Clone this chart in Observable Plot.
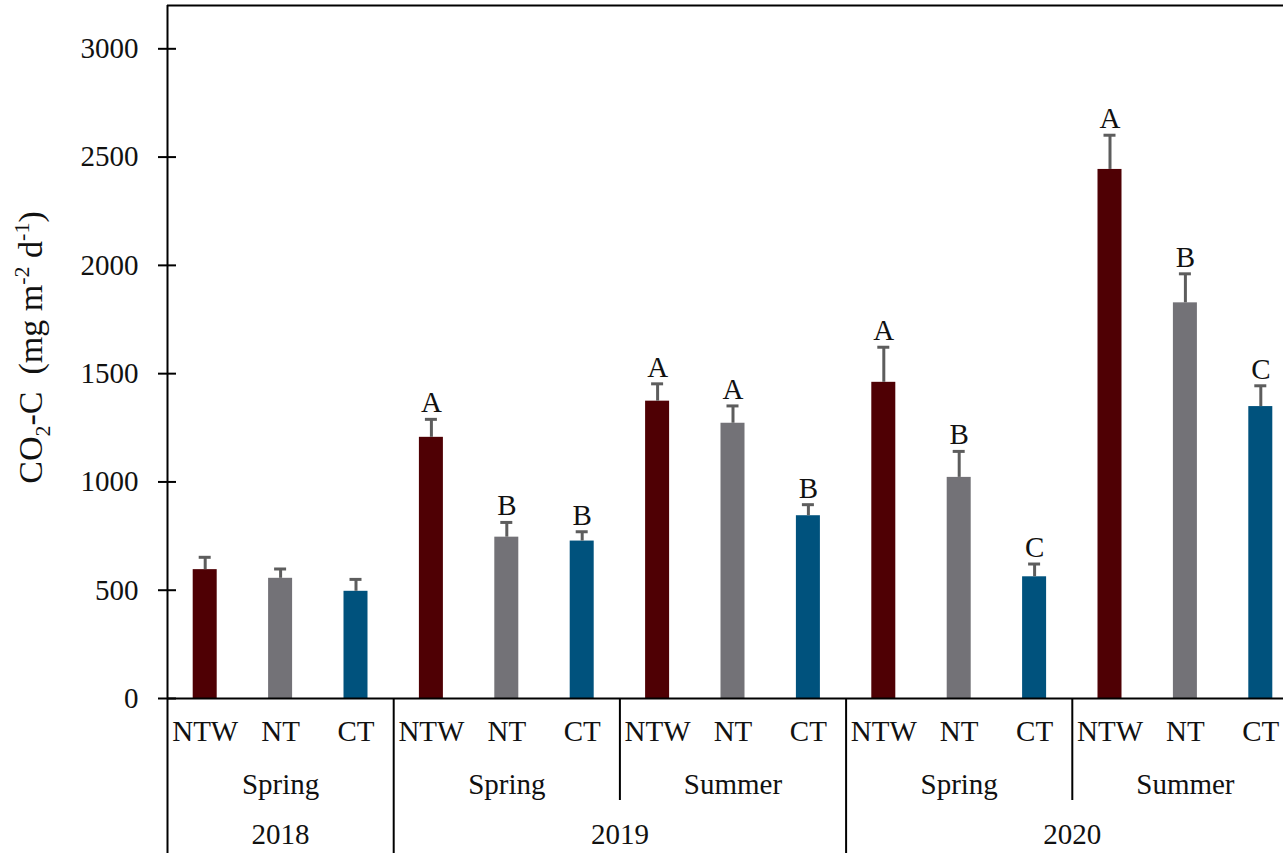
<!DOCTYPE html>
<html>
<head>
<meta charset="utf-8">
<script src="https://cdn.jsdelivr.net/npm/d3@7"></script>
<script src="https://cdn.jsdelivr.net/npm/@observablehq/plot@0.6"></script>
<style>
  html, body { margin: 0; padding: 0; background: #fff; overflow: hidden; }
  #chart svg { max-width: none !important; display: block; }
</style>
</head>
<body>
<div id="chart"></div>
<script>
// Soil CO2-C flux by tillage treatment, season and year
const treatments = ["NTW", "NT", "CT"];
const years   = ["2018", "2019", "2019", "2020", "2020"];
const seasons = ["Spring", "Spring", "Summer", "Spring", "Summer"];
const means = [
  [595, 555, 495],
  [1206, 745, 727],
  [1373, 1271, 844],
  [1460, 1021, 562],
  [2443, 1827, 1348]
];
const errors = [
  [57, 43, 55],
  [83, 68, 43],
  [80, 80, 51],
  [162, 120, 59],
  [158, 134, 96]
];
const letters = [
  ["", "", ""],
  ["A", "B", "B"],
  ["A", "A", "B"],
  ["A", "B", "C"],
  ["A", "B", "C"]
];
const yTicks = [0, 500, 1000, 1500, 2000, 2500, 3000];
const yMax = 3200;
const barColors = ["#4f0004", "#737277", "#00527d"];

// one row per bar
const rows = [];
seasons.forEach((s, i) => treatments.forEach((t, j) => rows.push({
  key: `${years[i]} ${s} ${t}`, year: years[i], season: s, treat: t,
  mean: means[i][j], err: errors[i][j], letter: letters[i][j]
})));
const keys = rows.map(d => d.key);
const treatOf = new Map(rows.map(d => [d.key, d.treat]));

// layout
const W = 1308, H = 853, ML = 167, MR = 10, MT = 5, MB = 155;
const PW = W - ML - MR, PH = H - MT - MB;
const bw = PW / keys.length;
const barW = 24, capW = 12;
const ink = "#111";
const serif = "'Liberation Serif', 'Times New Roman', serif";

// multi-level category labels
const seasonLabels = seasons.map((s, i) => ({key: keys[i * 3 + 1], text: s}));
const yearSpans = [];
rows.forEach((d, k) => {
  const last = yearSpans[yearSpans.length - 1];
  if (last && last.year === d.year) last.count++;
  else yearSpans.push({year: d.year, start: k, count: 1});
});
const yearOdd = yearSpans.filter(s => s.count % 2 === 1)
  .map(s => ({key: keys[s.start + (s.count - 1) / 2], text: s.year}));
const yearEven = yearSpans.filter(s => s.count % 2 === 0)
  .map(s => ({key: keys[s.start + s.count / 2], text: s.year}));
const seasonBreaks = [], yearBreaks = [];
for (let k = 3; k < rows.length; k += 3) {
  (rows[k].year !== rows[k - 1].year ? yearBreaks : seasonBreaks).push(keys[k]);
}

const chart = Plot.plot({
  width: W, height: H,
  marginLeft: ML, marginRight: MR, marginTop: MT, marginBottom: MB,
  style: {fontFamily: serif, fontSize: "29px", color: ink, background: "#fff", maxWidth: "none"},
  x: {domain: keys, padding: 0, round: false, tickSize: 0, tickPadding: 21.5, tickFormat: k => treatOf.get(k), label: null},
  y: {domain: [0, yMax], ticks: yTicks, tickFormat: d => String(d), tickSize: 0, tickPadding: 29, label: null},
  color: {domain: treatments, range: barColors},
  marks: [
    Plot.barY(rows, {
      x: "key", y: "mean", fill: "treat",
      insetLeft: (bw - barW) / 2, insetRight: (bw - barW) / 2
    }),
    // error bars
    Plot.ruleX(rows, {x: "key", y1: "mean", y2: d => d.mean + d.err, stroke: "#5d5d5d", strokeWidth: 3}),
    Plot.tickY(rows, {
      x: "key", y: d => d.mean + d.err, stroke: "#5d5d5d", strokeWidth: 3,
      insetLeft: (bw - capW) / 2, insetRight: (bw - capW) / 2
    }),
    // significance letters
    Plot.text(rows.filter(d => d.letter), {
      x: "key", y: d => d.mean + d.err, text: "letter",
      lineAnchor: "bottom", dy: -7, fontSize: 29, fill: ink
    }),
    // axis lines, frame top and y ticks crossing the axis
    Plot.ruleY([0], {stroke: "#000", strokeWidth: 2}),
    Plot.ruleY([yMax], {stroke: "#000", strokeWidth: 2}),
    Plot.ruleY(yTicks, {stroke: "#000", strokeWidth: 2, insetLeft: -9, insetRight: PW - 9}),
    Plot.ruleX([keys[0]], {dx: -bw / 2, stroke: "#000", strokeWidth: 2, insetBottom: -MB}),
    // category separators below the axis
    Plot.ruleX(yearBreaks, {x: d => d, dx: -bw / 2, insetTop: PH, insetBottom: -MB, stroke: "#000", strokeWidth: 2}),
    Plot.ruleX(seasonBreaks, {x: d => d, dx: -bw / 2, insetTop: PH, insetBottom: -102, stroke: "#000", strokeWidth: 2}),
    // season and year labels
    Plot.text(seasonLabels, {x: "key", text: "text", frameAnchor: "bottom", lineAnchor: "bottom", dy: 95, fontSize: 29, fill: ink}),
    Plot.text(yearOdd, {x: "key", text: "text", frameAnchor: "bottom", lineAnchor: "bottom", dy: 145, fontSize: 29, fill: ink}),
    Plot.text(yearEven, {x: "key", text: "text", frameAnchor: "bottom", lineAnchor: "bottom", dy: 145, dx: -bw / 2, fontSize: 29, fill: ink})
  ]
});

// y-axis title with subscript and superscripts
const svg = d3.select(chart);
const title = svg.append("text")
  .attr("transform", `translate(42,${(MT + H - MB) / 2 - 4}) rotate(-90)`)
  .attr("text-anchor", "middle")
  .attr("fill", ink)
  .style("font-family", serif)
  .style("font-size", "34px")
  .style("white-space", "pre");
title.append("tspan").text("CO");
title.append("tspan").attr("dy", 8).style("font-size", "22px").text("2");
title.append("tspan").attr("dy", -8).text("-C  (mg m");
title.append("tspan").attr("dy", -13).style("font-size", "22px").text("-2");
title.append("tspan").attr("dy", 13).text(" d");
title.append("tspan").attr("dy", -13).style("font-size", "22px").text("-1");
title.append("tspan").attr("dy", 13).text(")");

document.getElementById("chart").append(chart);
</script>
</body>
</html>
